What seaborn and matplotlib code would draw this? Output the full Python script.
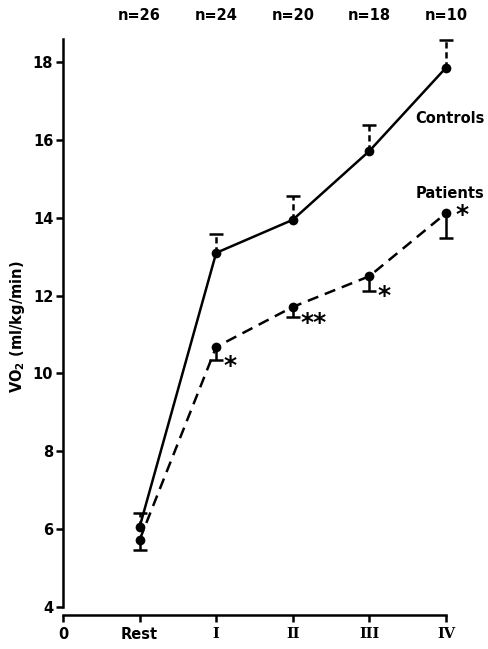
import matplotlib
matplotlib.use("Agg")
import matplotlib.pyplot as plt
import seaborn as sns
import pandas as pd
import numpy as np

stages = ["Rest", "I", "II", "III", "IV"]
n_labels = ["n=26", "n=24", "n=20", "n=18", "n=10"]
controls = [6.05, 13.10, 13.95, 15.72, 17.86]
controls_se = [0.35, 0.49, 0.62, 0.67, 0.72]
patients = [5.72, 10.68, 11.71, 12.50, 14.12]
patients_se = [0.27, 0.33, 0.27, 0.37, 0.63]
signif = ["", "*", "**", "*", "*"]

sns.set_style("ticks")
plt.rcParams['font.family'] = ['DejaVu Sans']
plt.rcParams['font.weight'] = 'bold'
plt.rcParams['text.color'] = 'black'
plt.rcParams['axes.labelcolor'] = 'black'
plt.rcParams['axes.edgecolor'] = 'black'

xpos = np.arange(1, len(stages) + 1)
df = pd.DataFrame({"x": np.concatenate([xpos, xpos]),
                   "y": controls + patients,
                   "group": ["Controls"] * 5 + ["Patients"] * 5})

fig = plt.figure(figsize=(4.89, 6.49), dpi=100)
ax = fig.add_axes([0.1288, 0.0524, 0.7832, 0.8876])

sns.lineplot(data=df, x="x", y="y", hue="group", style="group",
             palette={"Controls": "black", "Patients": "black"},
             dashes={"Controls": "", "Patients": (4.5, 2.8)},
             markers={"Controls": "o", "Patients": "o"},
             markersize=7, markeredgewidth=0, linewidth=1.8,
             legend=False, ax=ax, zorder=3)
for ln in ax.lines:
    ln.set_clip_on(False)

c_top = np.array(controls) + np.array(controls_se)
p_bot = np.array(patients) - np.array(patients_se)
ax.vlines(xpos, controls, c_top, colors="black", linewidth=1.8,
          linestyles=(0, (2.5, 1.5)), clip_on=False)
ax.plot(xpos, c_top, ls="none", marker="_", markersize=10, markeredgewidth=1.8,
        color="black", clip_on=False)
ax.vlines(xpos, p_bot, patients, colors="black", linewidth=1.8, clip_on=False)
ax.plot(xpos, p_bot, ls="none", marker="_", markersize=10, markeredgewidth=1.8,
        color="black", clip_on=False)

for x, y, se, s in zip(xpos, patients, patients_se, signif):
    if not s:
        continue
    if x == 5:
        ax.text(x + 0.12, y - 0.05, s, fontsize=18, fontweight="bold", ha="left", va="center")
    else:
        ax.text(x + 0.1, y - se - 0.15, s, fontsize=18, fontweight="bold", ha="left", va="center")

ax.text(5.05, 16.55, "Controls", fontsize=10.5, fontweight="bold", ha="center", va="center")
ax.text(5.05, 14.62, "Patients", fontsize=10.5, fontweight="bold", ha="center", va="center")

for x, t in zip(xpos, n_labels):
    ax.text(x, 19.2, t, fontsize=10.5, fontweight="bold", ha="center", va="center")

ax.set_xlim(0, 5)
ax.set_ylim(3.79, 18.6)
ax.set_xticks(np.arange(0, 6))
ax.set_xticklabels(["0"] + stages, fontsize=10.5, fontweight="bold")
for lab in ax.get_xticklabels()[2:]:
    lab.set_family("DejaVu Serif")
ax.set_yticks(np.arange(4, 19, 2))
ax.set_yticklabels([str(v) for v in range(4, 19, 2)], fontsize=10.5, fontweight="bold")
ax.set_xlabel("")
ax.set_ylabel(r"VO$_\mathbf{2}$ (ml/kg/min)", fontsize=10.5, fontweight="bold", labelpad=4)

sns.despine(ax=ax)
ax.spines["left"].set_bounds(4, 18.6)
ax.spines["left"].set_linewidth(1.8)
ax.spines["bottom"].set_linewidth(1.8)
ax.tick_params(axis="both", width=1.8, length=5, color="black", labelcolor="black")
ax.tick_params(axis="y", pad=2)

fig.savefig("out.png", dpi=100)
